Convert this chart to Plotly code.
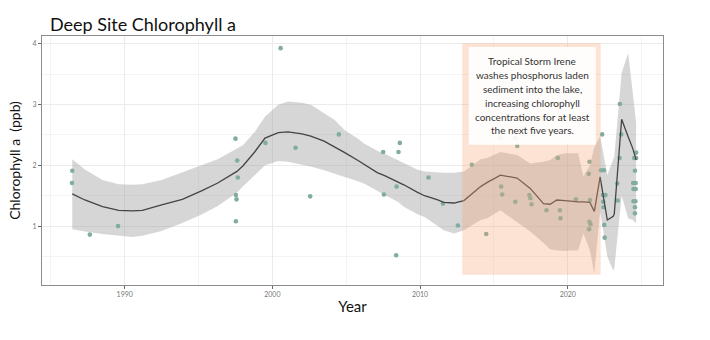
import plotly.graph_objects as go

# ---- observed data ----
years = [1986.45, 1986.43, 1987.64, 1989.55, 1997.50, 1997.62, 1997.66, 1997.53, 1997.57, 1997.53,
         1999.53, 2000.56, 2001.57, 2002.56, 2004.50, 2007.50, 2007.55, 2008.54, 2008.63, 2008.41,
         2008.38, 2010.57, 2011.55, 2012.56, 2013.51, 2014.48, 2015.44, 2016.45, 2015.49, 2015.56,
         2016.45, 2016.58, 2017.40, 2017.47, 2017.55, 2018.56, 2019.33, 2019.47, 2019.51, 2020.55,
         2021.47, 2021.42, 2021.51, 2021.47, 2021.54, 2021.45, 2022.33, 2022.25, 2022.45, 2022.38,
         2022.55, 2022.40, 2022.42, 2022.47, 2022.50, 2023.53, 2023.62, 2023.51, 2023.35, 2023.38,
         2024.63, 2024.50, 2024.63, 2024.55, 2024.43, 2024.60, 2024.45, 2024.60, 2024.45, 2024.58,
         2024.55, 2024.55]
chl = [1.91, 1.71, 0.86, 1.00, 2.44, 2.08, 1.80, 1.51, 1.44, 1.08,
       2.37, 3.93, 2.29, 1.49, 2.51, 2.22, 1.52, 2.22, 2.37, 1.65,
       0.52, 1.80, 1.37, 1.01, 2.01, 0.87, 2.45, 2.45, 1.65, 1.52,
       1.40, 2.32, 1.51, 1.46, 1.36, 1.26, 2.12, 1.26, 1.13, 1.44,
       2.06, 1.86, 1.43, 1.07, 1.03, 0.95, 2.51, 1.92, 1.92, 1.51,
       1.51, 1.40, 1.31, 1.02, 0.81, 3.01, 2.51, 2.12, 1.70, 1.42,
       2.21, 2.12, 2.12, 1.91, 1.71, 1.71, 1.61, 1.61, 1.41, 1.41,
       1.31, 1.21]

# ---- loess smooth with confidence band ----
smooth_x = [1986.45, 1987.3, 1988.5, 1989.6, 1990.5, 1991.2, 1992.5, 1993.9, 1995.2, 1996.3,
            1997.6, 1998.0, 1998.8, 1999.5, 2000.4, 2001.06, 2002.0, 2002.6, 2003.5, 2004.2,
            2004.9, 2005.8, 2006.2, 2007.1, 2007.6, 2008.5, 2008.9, 2009.8, 2010.3, 2011.2,
            2011.6, 2012.3, 2012.97, 2014.1, 2014.55, 2015.44, 2016.57, 2017.46, 2018.36, 2018.81,
            2019.26, 2019.82, 2020.2, 2020.7, 2021.06, 2021.5, 2021.8, 2022.19, 2022.68, 2023.08,
            2023.15, 2023.65, 2024.09, 2024.4, 2024.63]
smooth_y = [1.53, 1.43, 1.32, 1.26, 1.25, 1.26, 1.35, 1.44, 1.58, 1.71,
            1.90, 1.99, 2.22, 2.45, 2.54, 2.55, 2.52, 2.48, 2.40, 2.31,
            2.21, 2.08, 2.02, 1.88, 1.83, 1.73, 1.68, 1.56, 1.50, 1.43,
            1.39, 1.38, 1.42, 1.65, 1.72, 1.84, 1.79, 1.62, 1.37, 1.36,
            1.43, 1.42, 1.41, 1.40, 1.40, 1.39, 1.24, 1.81, 1.10, 1.16,
            1.20, 2.76, 2.47, 2.28, 2.09]
smooth_lo = [0.95, 0.91, 0.87, 0.84, 0.82, 0.84, 0.92, 1.05, 1.19, 1.33,
             1.55, 1.65, 1.84, 2.00, 2.07, 2.06, 2.01, 1.98, 1.92, 1.86,
             1.81, 1.74, 1.70, 1.58, 1.51, 1.40, 1.32, 1.20, 1.15, 1.00,
             0.93, 0.88, 0.93, 1.10, 1.13, 1.26, 1.07, 0.91, 0.72, 0.62,
             0.60, 0.59, 0.60, 0.60, 0.88, 0.60, 0.22, 1.25, 0.50, 0.27,
             0.30, 1.50, 1.13, 1.10, 1.05]
smooth_hi = [2.10, 1.93, 1.76, 1.69, 1.68, 1.69, 1.76, 1.88, 2.00, 2.10,
             2.27, 2.33, 2.55, 2.80, 3.00, 3.05, 3.03, 3.00, 2.86, 2.75,
             2.58, 2.44, 2.36, 2.24, 2.19, 2.08, 2.03, 1.93, 1.90, 1.88,
             1.88, 1.88, 1.90, 2.10, 2.12, 2.22, 2.17, 2.03, 2.06, 2.09,
             2.17, 2.20, 2.20, 2.20, 1.82, 2.00, 2.30, 2.48, 1.84, 2.10,
             2.14, 3.52, 3.85, 3.20, 2.70]

storm_years = [2012.86, 2022.23]
storm_range = [0.20, 4.01]
note_x = [2013.3, 2021.9]
note_y = [2.34, 3.95]
note_lines = ["Tropical Storm Irene", "washes phosphorus laden", "sediment into the lake,",
              "increasing chlorophyll", "concentrations for at least", "the next five years."]

FONT = "Lato"

fig = go.Figure()
fig.add_trace(go.Scatter(x=smooth_x, y=smooth_lo, mode="lines", line=dict(width=0),
                         hoverinfo="skip", showlegend=False))
fig.add_trace(go.Scatter(x=smooth_x, y=smooth_hi, mode="lines", line=dict(width=0),
                         fill="tonexty", fillcolor="rgba(153,153,153,0.4)",
                         hoverinfo="skip", showlegend=False))
fig.add_trace(go.Scatter(x=years, y=chl, mode="markers",
                         marker=dict(size=4.6, color="#80ad9f"), showlegend=False))
fig.add_trace(go.Scatter(x=smooth_x, y=smooth_y, mode="lines",
                         line=dict(color="#444444", width=1.3), showlegend=False))

fig.add_shape(type="rect", xref="x", yref="y", x0=storm_years[0], x1=storm_years[1],
              y0=storm_range[0], y1=storm_range[1], fillcolor="rgba(246,165,115,0.31)",
              line=dict(width=0), layer="above")
fig.add_shape(type="rect", xref="x", yref="y", x0=note_x[0], x1=note_x[1],
              y0=note_y[0], y1=note_y[1], fillcolor="rgba(255,255,255,0.9)",
              line=dict(width=0), layer="above")
n = len(note_lines)
for i, line in enumerate(note_lines):
    fig.add_annotation(x=(note_x[0] + note_x[1]) / 2, y=(note_y[0] + note_y[1]) / 2,
                       xref="x", yref="y", text=line, showarrow=False,
                       yshift=((n - 1) / 2 - i) * 13.8,
                       font=dict(family=FONT, size=10, color="#333333"), align="center")

axis_common = dict(showline=True, mirror=True, linecolor="#8c8c8c", linewidth=1,
                   ticks="outside", ticklen=3, tickcolor="#666666", tickwidth=1,
                   tickfont=dict(family=FONT, size=7, color="#777777"),
                   gridcolor="#ebebeb", gridwidth=1, zeroline=False)

fig.update_xaxes(range=[1984.4, 2026.45], tick0=1990, dtick=10,
                 minor=dict(tick0=1985, dtick=5, showgrid=True, gridcolor="#f4f4f4", gridwidth=0.6),
                 title=dict(text="Year", font=dict(family=FONT, size=15, color="#111111"), standoff=4),
                 **axis_common)
fig.update_yaxes(range=[0.03, 4.13], tick0=0, dtick=1,
                 minor=dict(tick0=0.5, dtick=1, showgrid=True, gridcolor="#f4f4f4", gridwidth=0.6),
                 title=dict(text="Chlorophyll a\u00a0 (ppb)", font=dict(family=FONT, size=14, color="#111111"),
                            standoff=8),
                 **axis_common)

fig.update_layout(width=710, height=340, margin=dict(l=42, r=47, t=36, b=55),
                  title=dict(text="Deep Site Chlorophyll a", x=50 / 710, xref="container", xanchor="left",
                             y=1 - 25 / 340, yref="container", yanchor="middle",
                             font=dict(family=FONT, size=18, color="#111111")),
                  paper_bgcolor="white", plot_bgcolor="white", showlegend=False,
                  font=dict(family=FONT))
fig.write_html("out.html")
